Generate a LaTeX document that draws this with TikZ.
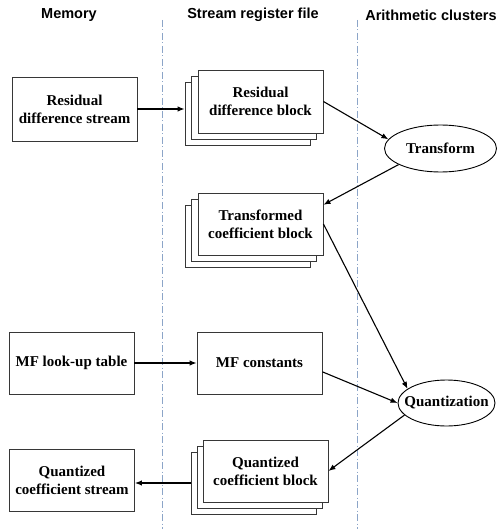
\documentclass[tikz,border=0pt]{standalone}
\usepackage{fontspec}
\setmainfont{Liberation Serif}
\newfontfamily\hdrfont{Liberation Sans}
\usetikzlibrary{shapes.geometric,arrows.meta}
\definecolor{laneblue}{RGB}{140,165,200}
\definecolor{boxgray}{RGB}{55,55,55}
\begin{document}
\begin{tikzpicture}[x=1pt,y=-1pt,
  box/.style={draw=boxgray, line width=0.9pt, fill=white, minimum width=125pt, minimum height=62pt, inner sep=0pt, align=center, font=\fontsize{15}{18}\selectfont\bfseries},
  oval/.style={ellipse, draw=black, line width=0.9pt, fill=white, inner sep=0pt, font=\fontsize{15}{18}\selectfont\bfseries},
  conn/.style={-{Latex[length=7pt,width=5.5pt]}, line width=1.1pt},
  hdr/.style={font=\hdrfont\fontsize{14.5}{17}\selectfont\bfseries},
  lane/.style={draw=laneblue, line width=0.8pt, dash pattern=on 7pt off 2.5pt on 1pt off 2.5pt}]
\useasboundingbox (0,0) rectangle (497,529);

% headers
\node[hdr] (hmem) at (69,15) {Memory};
\node[hdr] (hsrf) at (253,15) {Stream register file};
\node[hdr] (hac) at (431,15) {Arithmetic clusters};

% lane separators
\coordinate (l1top) at (162,20); \coordinate (l1bot) at (162,529);
\coordinate (l2top) at (357,20); \coordinate (l2bot) at (357,529);
\draw[lane] (l1top) -- (l1bot);
\draw[lane] (l2top) -- (l2bot);

% memory
\node[box, minimum height=64pt] (rds) at (74.5,109) {Residual\\difference stream};
\node[box] (mfl) at (71.5,363) {MF look-up table};
\node[box] (qcs) at (72,480) {Quantized\\coefficient stream};

% stream register file
\node[box, minimum height=63pt] (rdbA) at (247.5,113.5) {};
\node[box, minimum height=63pt] (rdbB) at (254,107.5) {};
\node[box, minimum height=63pt] (rdb) at (260.5,101.5) {Residual\\difference block};

\node[box] (tcbA) at (247.5,236) {};
\node[box] (tcbB) at (254,230) {};
\node[box] (tcb) at (260.5,224) {Transformed\\coefficient block};

\node[box] (mfc) at (259.5,363) {MF constants};

\node[box] (qcbA) at (253.5,483) {};
\node[box] (qcbB) at (259.5,477) {};
\node[box] (qcb) at (265.5,471) {Quantized\\coefficient block};

% arithmetic clusters
\node[oval, minimum width=112pt, minimum height=47pt] (tr) at (440.5,148.5) {\makebox[0pt]{Transform}};
\node[oval, minimum width=97pt, minimum height=46pt] (qz) at (446.5,403) {\makebox[0pt]{Quantization}};

% connectors
\draw[conn] (rds.east) -- (rds.east -| rdbA.west);
\draw[conn] (rdb.east) -- (tr.170);
\draw[conn] (tr.201) -- (tcb.17);
\draw[conn] (tcb.east) -- (qz.160);
\draw[conn] (mfl.east) -- (mfc.west);
\draw[conn] (mfc.-8) -- (qz.west);
\draw[conn] (qz.196) -- (qcb.east);
\draw[conn] (qcbA.west) -- (qcbA.west -| qcs.east);
\end{tikzpicture}
\end{document}
